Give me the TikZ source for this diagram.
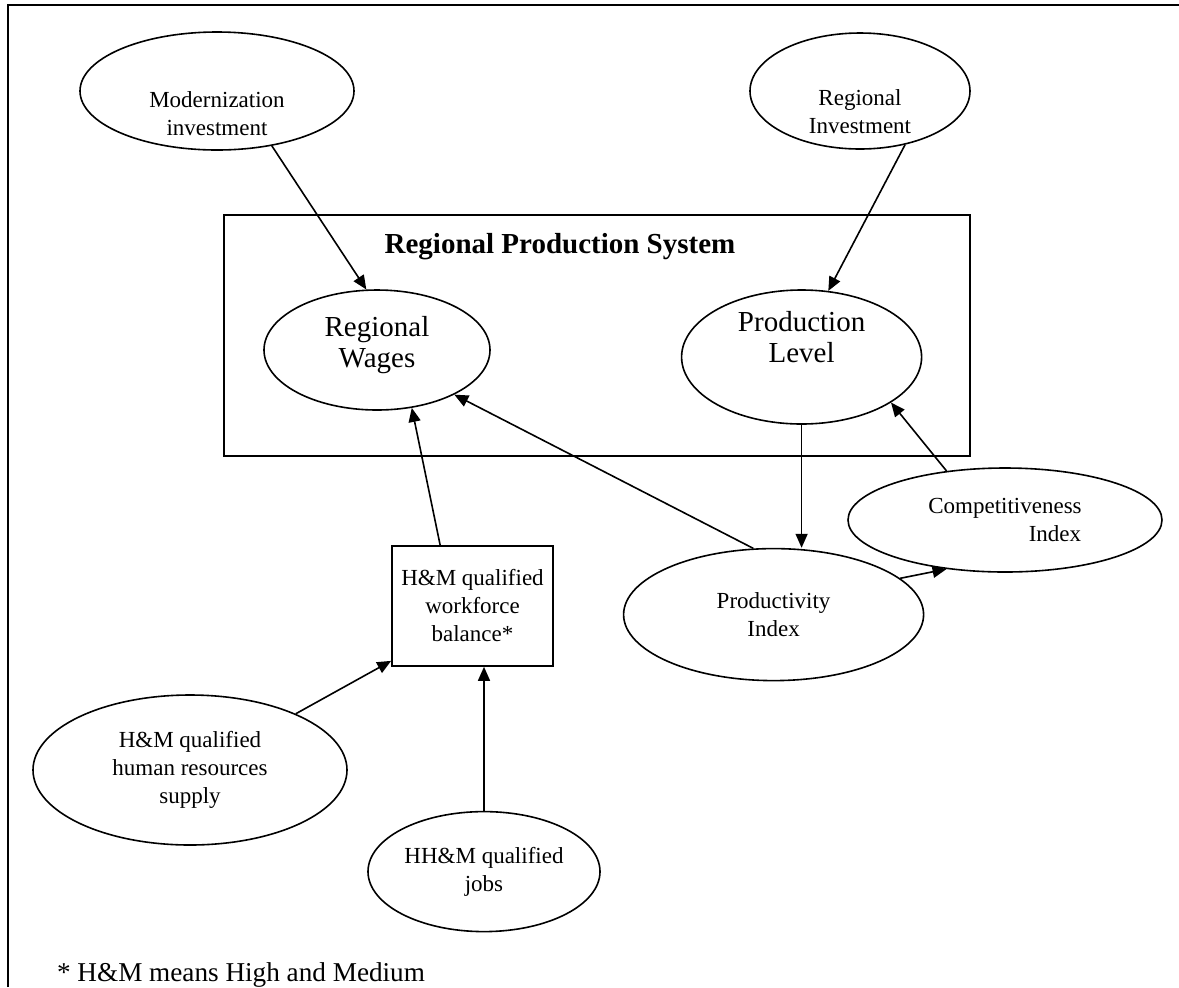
\documentclass[tikz,border=0pt]{standalone}
\usepackage{fontspec}
\setmainfont{Liberation Serif}
\usetikzlibrary{arrows.meta,shapes,positioning,calc}
\tikzset{
    factor/.style={draw, ellipse, line width=0.8pt, inner sep=0pt, align=center, font=\fontsize{11.5}{14}\selectfont},
    bigfactor/.style={factor, font=\fontsize{14.5}{15.5}\selectfont},
    balancebox/.style={draw, rectangle, line width=0.8pt, inner sep=0pt, align=center, font=\fontsize{11.5}{14}\selectfont},
    causal/.style={-{Triangle[length=7pt, width=6pt]}, line width=0.8pt}
}
% text lines moved up/down inside their shape
\newcommand{\shiftlines}[2]{\raisebox{#1}[\height][\depth]{\begin{tabular}{@{}c@{}}#2\end{tabular}}}

\begin{document}
\begin{tikzpicture}[x=0.5pt, y=-0.5pt]
    \useasboundingbox (0,0) rectangle (1179,987);
    % outer frame (top and left edges only)
    \draw[line width=0.9pt] (8,987) -- (8,5) -- (1179,5);

    % regional production system
    \node[draw, line width=0.8pt, minimum width=373pt, minimum height=120.5pt] (rps) at (597,335.5) {};
    \node[font=\fontsize{14.5}{16}\selectfont\bfseries] (rpstitle) at (560,247) {Regional Production System};
    \node[bigfactor, minimum width=113pt, minimum height=60pt] (wages) at (377,350) {\shiftlines{2pt}{Regional\\Wages}};
    \node[bigfactor, minimum width=120pt, minimum height=67pt, right=95pt of wages, yshift=-3.5pt] (prodlevel) {\shiftlines{8pt}{Production\\Level}};

    % investments
    \node[factor, minimum width=137pt, minimum height=59pt] (modinv) at (217,91) {\shiftlines{-12.5pt}{Modernization\\investment}};
    \node[factor, minimum width=110pt, minimum height=58pt] (reginv) at (860,91) {\shiftlines{-11.5pt}{Regional\\Investment}};

    % workforce
    \node[balancebox, minimum width=80.5pt, minimum height=60pt] (balance) at (472.5,606) {H\&M qualified\\workforce\\balance*};
    \node[factor, minimum width=157pt, minimum height=75pt] (supply) at (190,770) {H\&M qualified\\human resources\\supply};
    \node[factor, minimum width=116pt, minimum height=60pt, below=72pt of balance, xshift=5.75pt] (jobs) {HH\&M qualified\\jobs};

    % indices
    \node[factor, minimum width=150pt, minimum height=66pt, below=61.5pt of prodlevel, xshift=-14pt] (productivity) {Productivity\\Index};
    \node[factor, minimum width=157pt, minimum height=52pt] (comp) at (1005,520) {Competitiveness\\\hspace{50pt}Index};

    \draw[causal] (modinv.-45) -- (wages.100);
    \draw[causal] (reginv.-50) -- (prodlevel.68);
    \draw[causal] (prodlevel.south) -- (prodlevel.south |- productivity.north);
    \draw[causal] (productivity.107) -- (wages.-30);
    \draw[causal] (balance.118) -- (wages.-59);
    \draw[causal] (supply.28) -- (balance.214);
    \draw[causal] (jobs.north) -- (jobs.north |- balance.south);
    \draw[causal] (productivity.16) -- (comp.220);
    \draw[causal] (comp.140) -- (prodlevel.-27);

    \node[anchor=west, font=\fontsize{13.6}{16}\selectfont] (note) at (50,975) {* H\&M means High and Medium};
\end{tikzpicture}
\end{document}
